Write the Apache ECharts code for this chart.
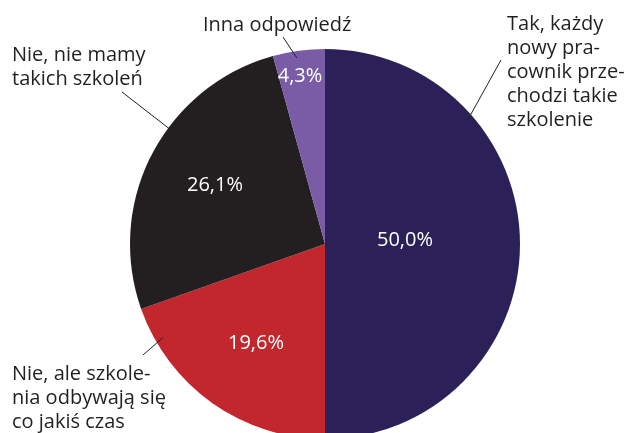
<!DOCTYPE html>
<html lang="pl">
<head>
    <meta charset="utf-8">
    <title>Szkolenia nowych pracowników</title>
    <script src="https://cdn.jsdelivr.net/npm/echarts@6/dist/echarts.min.js"></script>
    <style>
        html, body { margin: 0; padding: 0; background: #fff; }
        #main { width: 633px; height: 433px; }
    </style>
</head>
<body>
    <div id="main"></div>
    <script type="text/javascript">
        // dane
        var categories = [
            'Tak, każdy\nnowy pra-\ncownik prze-\nchodzi takie\nszkolenie',
            'Nie, ale szkole-\nnia odbywają się\nco jakiś czas',
            'Nie, nie mamy\ntakich szkoleń',
            'Inna odpowiedź'
        ];
        var values = [50.0, 19.6, 26.1, 4.3];
        var colors = ['#2b2158', '#c1272d', '#231f20', '#7a5ca6'];

        // układ etykiet (piksele)
        var center = [325, 244];
        var radius = 195;
        var innerPos = [[405, 240], [256, 343], [215, 185], [300, 76]];
        var outerPos = [[507, 72], [12, 398], [12, 67], [203, 25]];
        // linie: [kąt od góry (stopnie), ułamek promienia, punkt przy etykiecie]
        var guides = [
            [49, 0.97, [501, 60]],
            [240, 0.96, [143, 355]],
            [306.5, 0.98, [122, 92]],
            [351.4, 0.965, [283, 37]]
        ];

        function polar(deg, frac) {
            var a = deg * Math.PI / 180;
            return [center[0] + Math.sin(a) * radius * frac, center[1] - Math.cos(a) * radius * frac];
        }

        var pieData = values.map(function (v, i) {
            return { name: categories[i], value: v, itemStyle: { color: colors[i] } };
        });

        var myChart = echarts.init(document.getElementById('main'));

        myChart.setOption({
            animation: false,
            series: [{
                type: 'pie',
                center: center,
                radius: radius,
                startAngle: 90,
                clockwise: true,
                avoidLabelOverlap: false,
                silent: true,
                data: pieData,
                label: {
                    show: true,
                    position: 'inside',
                    color: '#ffffff',
                    fontFamily: 'Open Sans',
                    fontSize: 20,
                    formatter: function (p) {
                        return p.value.toFixed(1).replace('.', ',') + '%';
                    }
                },
                labelLine: { show: false },
                labelLayout: function (p) {
                    var pos = innerPos[p.dataIndex];
                    return { x: pos[0], y: pos[1], align: 'center', verticalAlign: 'middle' };
                }
            }, {
                // tylko etykiety zewnętrzne z liniami
                type: 'pie',
                center: center,
                radius: radius,
                startAngle: 90,
                clockwise: true,
                avoidLabelOverlap: false,
                silent: true,
                z: 3,
                data: values.map(function (v, i) {
                    return { name: categories[i], value: v };
                }),
                itemStyle: { color: 'rgba(0,0,0,0)' },
                label: {
                    show: true,
                    position: 'outside',
                    color: '#231f20',
                    fontFamily: 'Open Sans',
                    fontSize: 20,
                    lineHeight: 24,
                    width: 170,
                    formatter: '{b}'
                },
                labelLine: {
                    show: true,
                    length: 5,
                    length2: 0,
                    lineStyle: { color: '#231f20', width: 1 }
                },
                labelLayout: function (p) {
                    var i = p.dataIndex;
                    var pos = outerPos[i];
                    var g = guides[i];
                    return {
                        x: pos[0], y: pos[1], align: 'left', verticalAlign: 'middle',
                        labelLinePoints: [polar(g[0], g[1]), g[2]]
                    };
                }
            }]
        });
    </script>
</body>
</html>
